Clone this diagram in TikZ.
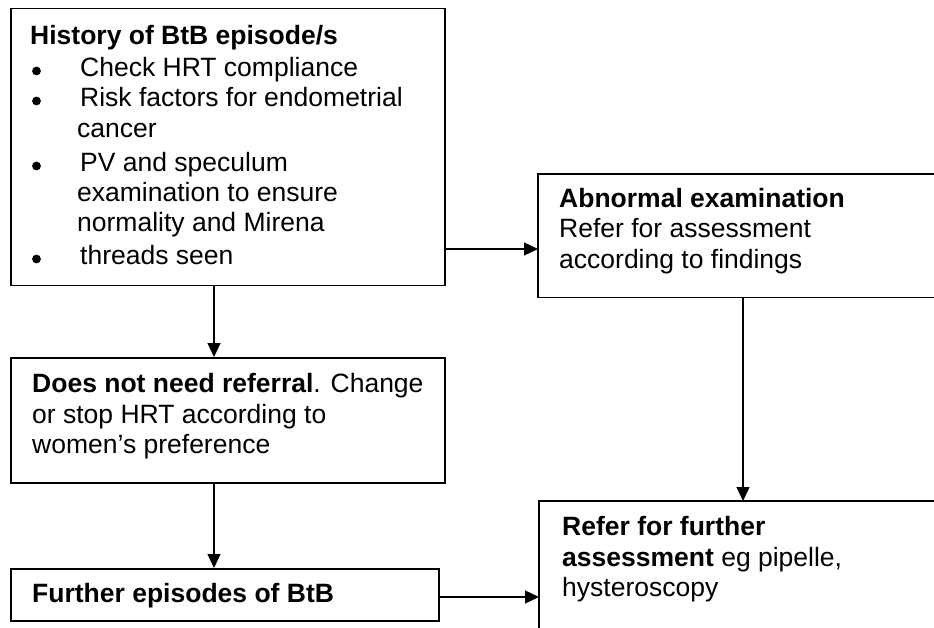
\documentclass[tikz,border=0pt]{standalone}
\usepackage{fontspec}
\setmainfont{Liberation Sans}
\usetikzlibrary{arrows.meta}
\begin{document}
\begin{tikzpicture}[x=1pt,y=-1pt,
  box/.style={draw, line width=1.5pt, rectangle, inner sep=0pt, anchor=north west},
  openbox/.style={rectangle, inner sep=0pt, anchor=north west},
  edge/.style={line width=1.5pt},
  txt/.style={anchor=base west, inner sep=0pt, font=\fontsize{26.5}{31}\selectfont},
  arr/.style={line width=1.3pt, -{Triangle[length=14pt,width=13pt]}},
  bul/.style={fill=black}]
\useasboundingbox (0,0) rectangle (934,628);
% boxes
\node[box, minimum width=434pt, minimum height=277pt] (b1) at (10,8) {};
\node[openbox, minimum width=396pt, minimum height=123pt] (b2) at (538,174) {};
\draw[edge] (b2.north east) -- (b2.north west) -- (b2.south west) -- (b2.south east);
\node[box, minimum width=434pt, minimum height=125pt] (b3) at (10,357) {};
\node[box, minimum width=428pt, minimum height=52pt] (b4) at (10,568) {};
\node[openbox, minimum width=395pt, minimum height=127pt] (b5) at (539,501) {};
\draw[edge] (b5.north east) -- (b5.north west) -- (b5.south west);
% box 1 text
\node[txt] (t1a) at (30,45) {\textbf{History of BtB episode/s}};
\fill[bul] (36.5,71) circle (4.4);
\node[txt] (t1b) at (80,77) {Check HRT compliance};
\fill[bul] (36.5,101) circle (4.4);
\node[txt] (t1c) at (80,107) {Risk factors for endometrial};
\node[txt] (t1d) at (77,138) {cancer};
\fill[bul] (36.5,166) circle (4.4);
\node[txt] (t1e) at (80,172) {PV and speculum};
\node[txt] (t1f) at (77,202) {examination to ensure};
\node[txt] (t1g) at (77,232) {normality and Mirena};
\fill[bul] (36.5,259) circle (4.4);
\node[txt] (t1h) at (80,265) {threads seen};
% box 2 text
\node[txt] (t2a) at (559,208) {\textbf{Abnormal examination}};
\node[txt] (t2b) at (559,238) {Refer for assessment};
\node[txt] (t2c) at (559,269) {according to findings};
% box 3 text
\node[txt] (t3a) at (32,392) {\textbf{Does not need referral}. Change};
\node[txt] (t3b) at (32,423) {or stop HRT according to};
\node[txt] (t3c) at (32,453) {women’s preference};
% box 4 text
\node[txt] (t4a) at (32,602) {\textbf{Further episodes of BtB}};
% box 5 text
\node[txt] (t5a) at (562,535) {\textbf{Refer for further}};
\node[txt] (t5b) at (562,566) {\textbf{assessment} eg pipelle,};
\node[txt] (t5c) at (562,596) {hysteroscopy};
% connectors
\coordinate (p1) at (444,249);
\draw[arr] (p1) -- (p1 -| b2.west);
\coordinate (p2) at (214,285);
\draw[arr] (p2) -- (p2 |- b3.north);
\coordinate (p3) at (214,482);
\draw[arr] (p3) -- (p3 |- b4.north);
\coordinate (p4) at (743,297);
\draw[arr] (p4) -- (p4 |- b5.north);
\coordinate (p5) at (438,597);
\draw[arr] (p5) -- (p5 -| b5.west);
\end{tikzpicture}
\end{document}
